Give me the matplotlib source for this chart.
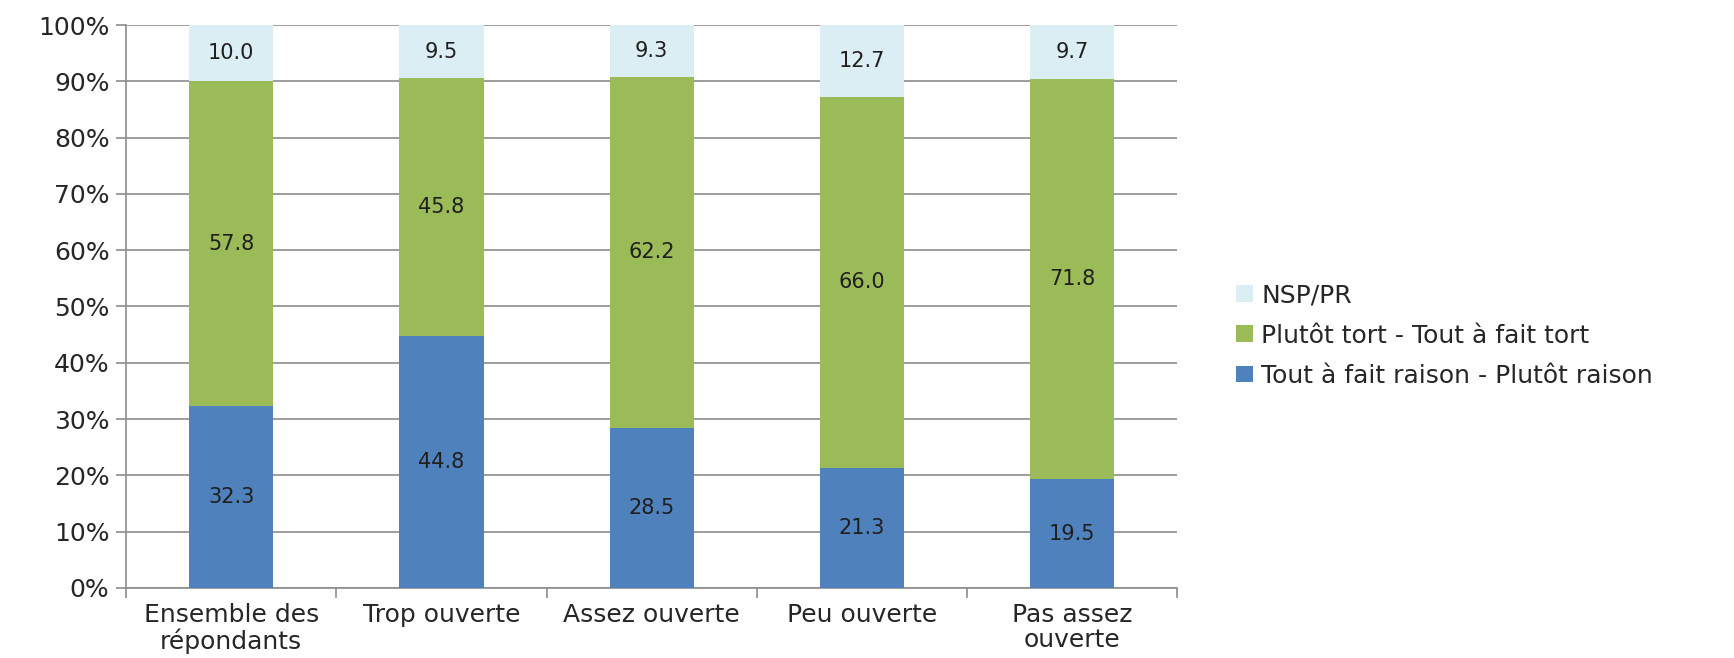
import matplotlib
matplotlib.use("Agg")
import matplotlib.pyplot as plt
import numpy as np

categories = ["Ensemble des\nrépondants", "Trop ouverte", "Assez ouverte", "Peu ouverte", "Pas assez\nouverte"]
raison = [32.3, 44.8, 28.5, 21.3, 19.5]
tort = [57.8, 45.8, 62.2, 66.0, 71.8]
nsp = [10.0, 9.5, 9.3, 12.7, 9.7]
series_names = ["Tout à fait raison - Plutôt raison", "Plutôt tort - Tout à fait tort", "NSP/PR"]
colors = ["#4F81BD", "#9BBB59", "#DBEEF4"]

plt.rcParams['font.family'] = ['DejaVu Sans']
fig = plt.figure(figsize=(17.34, 6.58), dpi=100)
ax = fig.add_axes([0.0727, 0.1064, 0.6063, 0.8556])

# 100% stacked: normalise each column to its total
data = np.array([raison, tort, nsp], dtype=float)
totals = data.sum(axis=0)
shares = data / totals * 100

x = np.arange(len(categories))
bottom = np.zeros(len(categories))
handles = []
for vals, shr, name, col in zip(data, shares, series_names, colors):
    b = ax.bar(x, shr, 0.4, bottom=bottom, color=col, label=name, zorder=3)
    handles.append(b)
    for xi, v, s, bt in zip(x, vals, shr, bottom):
        ax.text(xi, bt + s / 2, f"{v:.1f}", ha="center", va="center",
                fontsize=15, color="#1f1f1f", zorder=4)
    bottom += shr

ax.set_xlim(-0.5, len(categories) - 0.5)
ax.set_ylim(0, 100)
ax.set_yticks(np.arange(0, 101, 10))
ax.set_yticklabels([f"{t}%" for t in range(0, 101, 10)], fontsize=18, color="#262626")
ax.yaxis.grid(True, color="#8c8c8c", linewidth=1.2, zorder=0)
ax.set_axisbelow(True)
ax.set_xticks(x)
ax.set_xticklabels(categories, fontsize=18, color="#262626", linespacing=1.05)
ax.set_xticks(np.arange(-0.5, len(categories), 1), minor=True)
ax.tick_params(axis="x", which="major", length=0, pad=11)
ax.tick_params(axis="x", which="minor", length=7, color="#8c8c8c", width=1.2, direction="out")
ax.tick_params(axis="y", length=7, color="#8c8c8c", width=1.2, pad=5)
for s in ["top", "right"]:
    ax.spines[s].set_visible(False)
for s in ["left", "bottom"]:
    ax.spines[s].set_color("#8c8c8c")
    ax.spines[s].set_linewidth(1.2)

leg = fig.legend(handles[::-1], series_names[::-1], loc="center left",
                 bbox_to_anchor=(0.700, 0.49), frameon=False, fontsize=18,
                 handlelength=0.65, handleheight=0.65, labelspacing=0.65,
                 handletextpad=0.35, labelcolor="#262626")

fig.savefig("out.png", dpi=100)
